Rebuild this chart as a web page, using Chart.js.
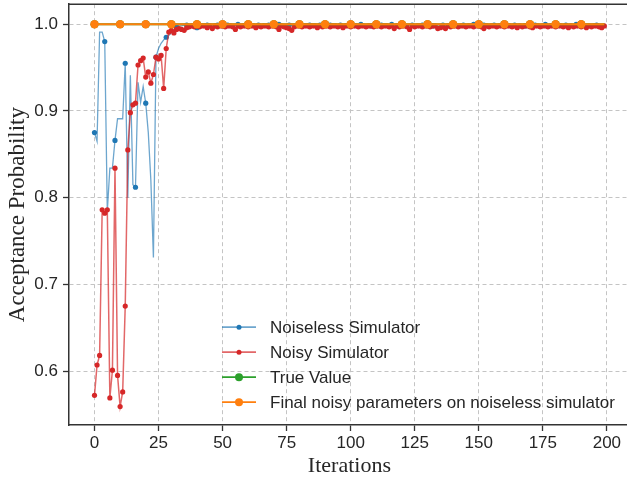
<!DOCTYPE html>
<html>
<head>
<meta charset="utf-8">
<script src="https://cdn.jsdelivr.net/npm/chart.js@4/dist/chart.umd.min.js"></script>
<style>
  html, body { margin: 0; padding: 0; background: #fff; overflow: hidden; }
  #wrap { width: 634px; height: 479px; }
</style>
</head>
<body>
<div id="wrap"><canvas id="c" width="634" height="479"></canvas></div>
<script>
// Acceptance probability per optimisation iteration
const noiselessSim = [
  0.875,0.865,0.991,0.991,0.980,0.784,0.834,0.834,0.866,0.891,
  0.891,0.891,0.955,0.800,0.941,0.815,0.812,0.933,0.910,0.928,
  0.909,0.875,0.820,0.731,0.962,0.972,0.978,0.982,0.985,0.987,
  0.990,0.994,0.997,0.998,0.998,0.999,0.999,0.998,0.999,0.998,
  0.996,0.999,0.999,1.000,0.999,0.998,0.999,1.000,0.999,0.999,
  0.999,1.000,0.999,0.998,0.999,0.999,1.000,0.999,0.999,0.998,
  0.999,1.000,0.999,0.997,0.999,0.999,1.000,0.999,0.999,0.999,
  0.998,0.999,1.000,0.999,0.999,0.997,0.999,0.999,1.000,0.999,
  0.999,0.998,0.999,1.000,0.999,0.999,0.999,0.998,0.999,1.000,
  0.999,0.999,0.999,1.000,0.999,0.998,0.999,0.999,1.000,0.999,
  0.999,0.999,0.998,0.999,1.000,0.999,0.999,0.999,0.998,0.999,
  1.000,0.999,0.999,0.999,0.998,0.999,1.000,0.999,0.999,0.999,
  0.999,0.998,0.999,1.000,0.999,0.999,0.999,0.998,0.999,1.000,
  0.999,0.999,0.998,0.999,0.999,1.000,0.999,0.999,0.999,0.998,
  0.999,1.000,0.999,0.999,0.999,0.998,0.999,0.999,1.000,0.999,
  0.999,0.998,0.999,1.000,0.999,0.999,0.999,0.998,0.999,1.000,
  0.999,0.999,0.999,0.998,0.999,1.000,0.999,0.999,0.998,0.999,
  1.000,0.999,0.999,0.999,0.998,0.999,1.000,0.999,0.999,0.999,
  0.998,0.999,1.000,0.999,0.999,0.999,0.998,0.999,1.000,0.999,
  0.999,0.999,0.998,0.999,1.000,0.999,0.999,0.999,0.998,0.999
];
const noisySim = [
  0.572,0.607,0.618,0.786,0.782,0.786,0.569,0.601,0.834,0.595,
  0.559,0.576,0.675,0.855,0.898,0.907,0.909,0.953,0.958,0.961,
  0.939,0.945,0.932,0.942,0.962,0.960,0.964,0.926,0.972,0.991,
  0.993,0.990,0.994,0.995,0.994,0.993,0.996,0.997,0.998,0.997,
  0.998,0.997,0.998,0.998,0.996,0.998,0.995,0.998,0.997,0.998,
  0.998,0.997,0.998,0.998,0.997,0.994,0.998,0.997,0.998,0.998,
  0.997,0.998,0.998,0.996,0.998,0.997,0.998,0.998,0.997,0.998,
  0.998,0.997,0.994,0.998,0.997,0.996,0.995,0.993,0.997,0.998,
  0.998,0.997,0.998,0.998,0.997,0.998,0.998,0.996,0.998,0.997,
  0.998,0.998,0.997,0.998,0.998,0.997,0.998,0.996,0.998,0.998,
  0.997,0.998,0.998,0.997,0.998,0.998,0.997,0.998,0.998,0.997,
  0.998,0.998,0.997,0.998,0.998,0.997,0.998,0.995,0.998,0.997,
  0.998,0.998,0.997,0.994,0.998,0.997,0.998,0.998,0.997,0.998,
  0.998,0.997,0.998,0.998,0.995,0.996,0.997,0.995,0.998,0.997,
  0.998,0.998,0.997,0.998,0.998,0.997,0.998,0.998,0.997,0.998,
  0.998,0.997,0.995,0.998,0.997,0.998,0.998,0.997,0.998,0.998,
  0.997,0.998,0.998,0.997,0.998,0.996,0.998,0.997,0.998,0.998,
  0.997,0.996,0.998,0.998,0.997,0.998,0.998,0.997,0.998,0.998,
  0.997,0.998,0.998,0.997,0.998,0.996,0.998,0.997,0.998,0.998,
  0.997,0.998,0.996,0.998,0.997,0.998,0.998,0.997,0.996,0.998
];
const trueValue = 1.0;            // exact acceptance probability
const finalNoisyOnNoiseless = 1.0; // final noisy parameters evaluated noiselessly
const xTicks = [0, 25, 50, 75, 100, 125, 150, 175, 200];
const yTicks = [0.6, 0.7, 0.8, 0.9, 1.0];
const seriesNames = ['Noiseless Simulator', 'Noisy Simulator', 'True Value',
                     'Final noisy parameters on noiseless simulator'];

const iterations = noiselessSim.map((_, i) => i);
const toXY = arr => arr.map((v, i) => ({ x: iterations[i], y: v }));
const constXY = v => iterations.map(i => ({ x: i, y: v }));

const C = {
  blue: '#1f77b4', blueLine: 'rgba(31,119,180,0.65)',
  red: '#d62728', redLine: 'rgba(214,39,40,0.7)',
  green: '#2ca02c', orange: '#ff7f0e'
};
const SANS = '"Liberation Sans", Arial, Helvetica, sans-serif';
const SERIF = '"Liberation Serif", "Times New Roman", serif';

// top spine (matplotlib-style frame) and a line+marker legend inside the axes
const framePlugin = {
  id: 'frame',
  afterDraw(chart) {
    const { ctx, chartArea: a } = chart;
    ctx.save();
    ctx.strokeStyle = '#333';
    ctx.lineWidth = 1.5;
    ctx.beginPath();
    ctx.moveTo(a.left, a.top); ctx.lineTo(a.right, a.top); ctx.lineTo(a.right, a.bottom);
    ctx.stroke();

    const handles = [
      { line: C.blueLine, dot: C.blue, r: 2.5 },
      { line: C.redLine, dot: C.red, r: 2.5 },
      { line: C.green, dot: C.green, r: 4 },
      { line: C.orange, dot: C.orange, r: 4 }
    ];
    const x0 = a.left + 153, x1 = a.left + 187, xt = a.left + 201;
    ctx.font = '17px ' + SANS;
    ctx.textBaseline = 'middle';
    ctx.textAlign = 'left';
    handles.forEach((h, i) => {
      const y = a.top + 323 + i * 25;
      ctx.strokeStyle = h.line; ctx.lineWidth = 1.8;
      ctx.beginPath(); ctx.moveTo(x0, y); ctx.lineTo(x1, y); ctx.stroke();
      ctx.fillStyle = h.dot;
      ctx.beginPath(); ctx.arc((x0 + x1) / 2, y, h.r, 0, Math.PI * 2); ctx.fill();
      ctx.fillStyle = '#262626';
      ctx.fillText(seriesNames[i], xt, y + 1);
    });
    ctx.restore();
  }
};

const gridCfg = {
  color: '#c4c4c4', lineWidth: 1,
  drawTicks: true, tickLength: 6, tickColor: '#333', tickWidth: 1.3, tickBorderDash: []
};
const borderCfg = { display: true, color: '#333', width: 1.5, dash: [4, 3] };

new Chart(document.getElementById('c'), {
  type: 'line',
  data: {
    datasets: [
      {
        label: seriesNames[0], data: toXY(noiselessSim), order: 3,
        borderColor: C.blueLine, borderWidth: 1.3, backgroundColor: C.blue,
        pointRadius: ctx => (ctx.dataIndex % 4 === 0 ? 2.6 : 0), pointBorderWidth: 0,
        pointBackgroundColor: C.blue, tension: 0
      },
      {
        label: seriesNames[1], data: toXY(noisySim), order: 2,
        borderColor: C.redLine, borderWidth: 1.5, backgroundColor: C.red,
        pointRadius: 2.6, pointBorderWidth: 0, pointBackgroundColor: C.red, tension: 0
      },
      {
        label: seriesNames[2], data: constXY(trueValue), order: 1,
        borderColor: C.green, borderWidth: 2, backgroundColor: C.green,
        pointRadius: ctx => (ctx.dataIndex % 10 === 0 ? 4 : 0), pointBorderWidth: 0,
        pointBackgroundColor: C.green
      },
      {
        label: seriesNames[3], data: constXY(finalNoisyOnNoiseless), order: 0,
        borderColor: C.orange, borderWidth: 2, backgroundColor: C.orange,
        pointRadius: ctx => (ctx.dataIndex % 10 === 0 ? 4.2 : 0), pointBorderWidth: 0,
        pointBackgroundColor: C.orange
      }
    ]
  },
  options: {
    responsive: false,
    animation: false,
    devicePixelRatio: 1,
    layout: { padding: { left: 0, top: 4, right: 4, bottom: 0 } },
    plugins: { legend: { display: false }, tooltip: { enabled: false } },
    scales: {
      x: {
        type: 'linear', min: -9.95, max: 208.95,
        afterFit: s => { s.height = 54; s.paddingLeft = 0; s.paddingRight = 0; },
        afterBuildTicks: s => { s.ticks = xTicks.map(v => ({ value: v })); },
        ticks: { font: { family: SANS, size: 17 }, color: '#262626', padding: 2, maxRotation: 0,
                 callback: v => String(v) },
        grid: gridCfg,
        border: borderCfg,
        title: { display: true, text: 'Iterations', color: '#262626',
                 font: { family: SERIF, size: 22 }, padding: { top: 0, bottom: 0 } }
      },
      y: {
        type: 'linear', min: 0.5378, max: 1.0231,
        afterFit: s => { s.width = 69; s.paddingTop = 0; s.paddingBottom = 0; },
        afterBuildTicks: s => { s.ticks = yTicks.map(v => ({ value: v })); },
        ticks: { font: { family: SANS, size: 17 }, color: '#262626', padding: 5,
                 callback: v => Number(v).toFixed(1) },
        grid: gridCfg,
        border: borderCfg,
        title: { display: true, text: 'Acceptance Probability', color: '#262626',
                 font: { family: SERIF, size: 23 }, padding: { top: 4, bottom: 0 } }
      }
    }
  },
  plugins: [framePlugin]
});
</script>
</body>
</html>
